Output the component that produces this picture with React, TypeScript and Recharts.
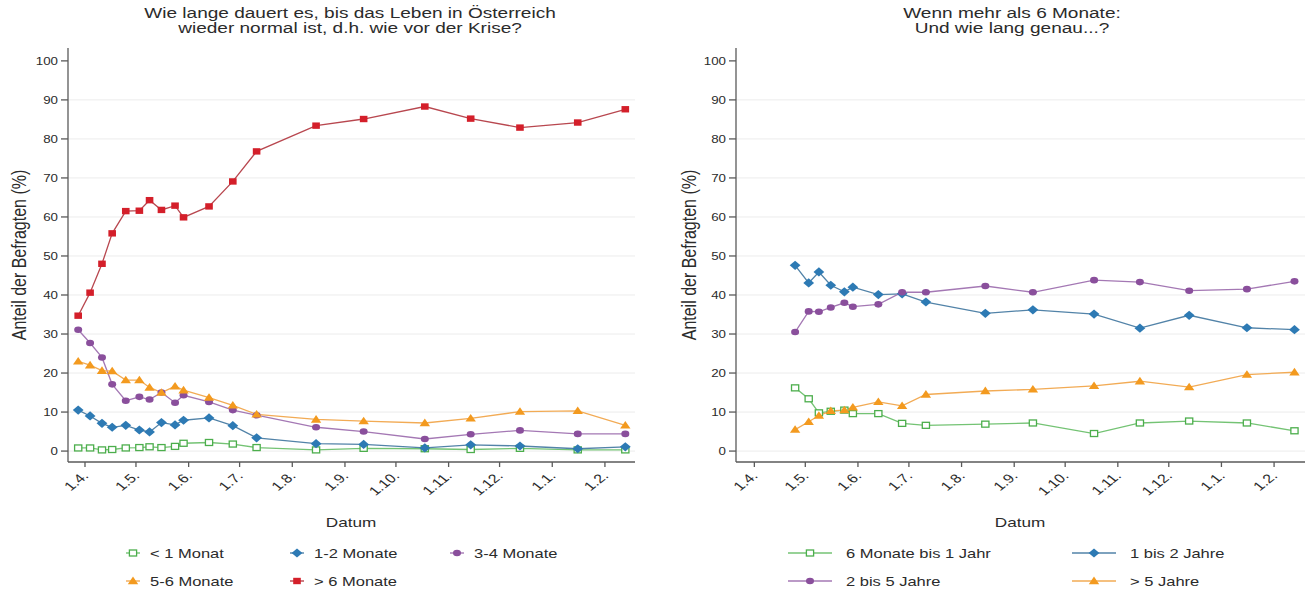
import React from "react";
import { CartesianGrid, Line, LineChart, XAxis, YAxis } from "recharts";

// survey dates as days after 1 April 2020
const surveyDays = [-4, 3, 10, 16, 24, 32, 38, 45, 53, 58, 73, 87, 101, 136, 164, 200, 227, 256, 290, 318];
const followUpDays = surveyDays.slice(4);

const monthTicks = [0, 30, 61, 91, 122, 153, 183, 214, 244, 275, 306];
const monthLabels = ["1.4.", "1.5.", "1.6.", "1.7.", "1.8.", "1.9.", "1.10.", "1.11.", "1.12.", "1.1.", "1.2."];
const yTicks = [0, 10, 20, 30, 40, 50, 60, 70, 80, 90, 100];
const gridValues = [0, 10, 20, 30, 40, 50, 60, 70, 80, 90];

// left panel
const underOneMonth = [0.8, 0.8, 0.3, 0.4, 0.8, 0.9, 1.1, 0.9, 1.2, 2.0, 2.2, 1.8, 0.9, 0.3, 0.7, 0.6, 0.4, 0.7, 0.3, 0.3];
const oneToTwoMonths = [10.5, 9.0, 7.1, 6.1, 6.6, 5.4, 4.9, 7.3, 6.7, 7.9, 8.5, 6.5, 3.4, 1.9, 1.7, 0.8, 1.6, 1.3, 0.6, 1.1];
const threeToFourMonths = [31.1, 27.7, 24.0, 17.1, 12.9, 13.9, 13.2, 15.0, 12.4, 14.3, 12.6, 10.5, 9.2, 6.1, 5.0, 3.1, 4.3, 5.3, 4.4, 4.4];
const fiveToSixMonths = [23.0, 22.0, 20.6, 20.5, 18.2, 18.2, 16.3, 15.0, 16.6, 15.6, 13.7, 11.7, 9.4, 8.1, 7.7, 7.2, 8.4, 10.1, 10.3, 6.6];
const overSixMonths = [34.7, 40.6, 48.0, 55.8, 61.5, 61.6, 64.3, 61.8, 62.9, 59.9, 62.7, 69.1, 76.8, 83.4, 85.1, 88.3, 85.2, 82.9, 84.2, 87.6];

// right panel
const sixMonthsToOneYear = [16.2, 13.4, 9.8, 10.2, 10.5, 9.6, 9.6, 7.1, 6.6, 6.9, 7.2, 4.5, 7.2, 7.7, 7.2, 5.2];
const oneToTwoYears = [47.6, 43.1, 45.9, 42.5, 40.8, 42.0, 40.1, 40.3, 38.2, 35.3, 36.2, 35.1, 31.5, 34.8, 31.6, 31.1];
const twoToFiveYears = [30.5, 35.8, 35.7, 36.8, 38.0, 37.0, 37.6, 40.7, 40.7, 42.3, 40.7, 43.8, 43.3, 41.1, 41.5, 43.5];
const overFiveYears = [5.5, 7.5, 9.1, 10.3, 10.5, 11.2, 12.6, 11.6, 14.5, 15.4, 15.8, 16.7, 17.9, 16.4, 19.6, 20.2];

const FONT = "'Liberation Sans', Arial, Helvetica, sans-serif";
const STRETCH = 1.27;
const AXIS = "#5a5a5a";
const TEXT = "#2b2b2b";

type Shape = "square" | "hollowSquare" | "diamond" | "circle" | "triangle";

const colors = {
  green: { mark: "#4cae4c", line: "#74c374" },
  blue: { mark: "#2d7ab4", line: "#5283a8" },
  purple: { mark: "#8a4f9c", line: "#a478b4" },
  orange: { mark: "#f39a1f", line: "#f2ab55" },
  red: { mark: "#d41f2a", line: "#b8474f" },
};

const leftSeries = [
  { key: "u1", name: "< 1 Monat", values: underOneMonth, shape: "hollowSquare" as Shape, color: colors.green },
  { key: "m12", name: "1-2 Monate", values: oneToTwoMonths, shape: "diamond" as Shape, color: colors.blue },
  { key: "m34", name: "3-4 Monate", values: threeToFourMonths, shape: "circle" as Shape, color: colors.purple },
  { key: "m56", name: "5-6 Monate", values: fiveToSixMonths, shape: "triangle" as Shape, color: colors.orange },
  { key: "m6", name: "> 6 Monate", values: overSixMonths, shape: "square" as Shape, color: colors.red },
];

const rightSeries = [
  { key: "y01", name: "6 Monate bis 1 Jahr", values: sixMonthsToOneYear, shape: "hollowSquare" as Shape, color: colors.green },
  { key: "y12", name: "1 bis 2 Jahre", values: oneToTwoYears, shape: "diamond" as Shape, color: colors.blue },
  { key: "y25", name: "2 bis 5 Jahre", values: twoToFiveYears, shape: "circle" as Shape, color: colors.purple },
  { key: "y5", name: "> 5 Jahre", values: overFiveYears, shape: "triangle" as Shape, color: colors.orange },
];

const leftData = surveyDays.map((day, i) => {
  const row: Record<string, number> = { day };
  leftSeries.forEach((s) => (row[s.key] = s.values[i]));
  return row;
});

const rightData = followUpDays.map((day, i) => {
  const row: Record<string, number> = { day };
  rightSeries.forEach((s) => (row[s.key] = s.values[i]));
  return row;
});

function Marker({ cx, cy, shape, color }: { cx: number; cy: number; shape: Shape; color: string }) {
  if (cx == null || cy == null) return null;
  switch (shape) {
    case "square":
      return <rect x={cx - 3.8} y={cy - 3.2} width={7.6} height={6.4} fill={color} />;
    case "hollowSquare":
      return <rect x={cx - 3.6} y={cy - 3} width={7.2} height={6} fill="#fff" stroke={color} strokeWidth={1.3} />;
    case "diamond":
      return <polygon points={`${cx},${cy - 4.6} ${cx + 5.4},${cy} ${cx},${cy + 4.6} ${cx - 5.4},${cy}`} fill={color} />;
    case "circle":
      return <ellipse cx={cx} cy={cy} rx={4} ry={3.3} fill={color} />;
    case "triangle":
      return <polygon points={`${cx},${cy - 4.4} ${cx + 5.2},${cy + 3.2} ${cx - 5.2},${cy + 3.2}`} fill={color} />;
  }
  return null;
}

function YTick(props: any) {
  const { x, y, payload } = props;
  return (
    <text
      transform={`translate(${x},${y}) scale(${STRETCH},1)`}
      textAnchor="end"
      dy="0.36em"
      fontSize={10.5}
      fontFamily={FONT}
      fill={TEXT}
    >
      {payload.value}
    </text>
  );
}

function XTick(props: any) {
  const { x, y, payload } = props;
  const label = monthLabels[monthTicks.indexOf(payload.value)];
  return (
    <text
      transform={`translate(${x + 1},${y + 5}) scale(${STRETCH},1) rotate(-45)`}
      textAnchor="end"
      dy="0.3em"
      fontSize={12.5}
      fontFamily={FONT}
      fill={TEXT}
    >
      {label}
    </text>
  );
}

type SeriesDef = (typeof leftSeries)[number];

function Panel({
  data,
  series,
  domain,
  margin,
}: {
  data: Record<string, number>[];
  series: SeriesDef[];
  domain: [number, number];
  margin: { top: number; right: number; bottom: number; left: number };
}) {
  return (
    <LineChart width={653} height={594} data={data} margin={margin}>
      <CartesianGrid vertical={false} stroke="#ececec" strokeWidth={1} horizontalValues={gridValues} />
      <XAxis
        type="number"
        dataKey="day"
        domain={domain}
        allowDataOverflow
        ticks={monthTicks}
        interval={0}
        tick={<XTick />}
        tickSize={5}
        tickMargin={2}
        height={40}
        stroke={AXIS}
        axisLine={{ stroke: AXIS, strokeWidth: 1.3 }}
        tickLine={{ stroke: AXIS, strokeWidth: 1.3 }}
      />
      <YAxis
        type="number"
        domain={[-2.8, 103.3]}
        allowDataOverflow
        ticks={yTicks}
        interval={0}
        tick={<YTick />}
        tickSize={7}
        tickMargin={3}
        width={50}
        axisLine={{ stroke: AXIS, strokeWidth: 1.3 }}
        tickLine={{ stroke: AXIS, strokeWidth: 1.3 }}
      />
      {series.map((s) => (
        <Line
          key={s.key}
          dataKey={s.key}
          name={s.name}
          type="linear"
          stroke={s.color.line}
          strokeWidth={1.3}
          isAnimationActive={false}
          dot={(p: any) => <Marker key={`${s.key}-${p.index}`} cx={p.cx} cy={p.cy} shape={s.shape} color={s.color.mark} />}
          activeDot={false}
        />
      ))}
    </LineChart>
  );
}

function HText({ x, y, children, size, anchor = "middle" }: any) {
  return (
    <text
      transform={`translate(${x},${y}) scale(${STRETCH},1)`}
      textAnchor={anchor}
      fontSize={size}
      fontFamily={FONT}
      fill={TEXT}
    >
      {children}
    </text>
  );
}

function Overlay() {
  const leftLegendPos = [
    [133, 553],
    [297, 553],
    [457, 553],
    [133, 581],
    [297, 581],
  ];
  const rightLegendPos = [
    [810, 553],
    [1094, 553],
    [810, 581],
    [1094, 581],
  ];
  return (
    <svg width={1306} height={594} style={{ position: "absolute", left: 0, top: 0, pointerEvents: "none" }}>
      <HText x={350} y={18} size={15}>Wie lange dauert es, bis das Leben in Österreich</HText>
      <HText x={350} y={33} size={15}>wieder normal ist, d.h. wie vor der Krise?</HText>
      <HText x={1012} y={18} size={15}>Wenn mehr als 6 Monate:</HText>
      <HText x={1012} y={33} size={15}>Und wie lang genau...?</HText>

      <HText x={351} y={527} size={13.5}>Datum</HText>
      <HText x={1020} y={527} size={13.5}>Datum</HText>

      {[19, 689].map((x) => (
        <text
          key={x}
          transform={`translate(${x},255) rotate(-90) scale(1,${STRETCH})`}
          textAnchor="middle"
          dy="0.35em"
          fontSize={16}
          fontFamily={FONT}
          fill={TEXT}
        >
          Anteil der Befragten (%)
        </text>
      ))}

      {leftSeries.map((s, i) => {
        const [mx, my] = leftLegendPos[i];
        return (
          <g key={s.key}>
            <line x1={mx - 7} x2={mx + 7} y1={my} y2={my} stroke={s.color.line} strokeWidth={1.4} />
            <Marker cx={mx} cy={my} shape={s.shape} color={s.color.mark} />
            <g transform={`translate(0,4.5)`}>
              <HText x={mx + 17} y={my} size={13} anchor="start">{s.name}</HText>
            </g>
          </g>
        );
      })}

      {rightSeries.map((s, i) => {
        const [mx, my] = rightLegendPos[i];
        return (
          <g key={s.key}>
            <line x1={mx - 22} x2={mx + 22} y1={my} y2={my} stroke={s.color.line} strokeWidth={1.4} />
            <Marker cx={mx} cy={my} shape={s.shape} color={s.color.mark} />
            <g transform={`translate(0,4.5)`}>
              <HText x={mx + 36} y={my} size={13} anchor="start">{s.name}</HText>
            </g>
          </g>
        );
      })}
    </svg>
  );
}

export default function App() {
  return (
    <div
      style={{
        position: "absolute",
        left: 0,
        top: 0,
        width: 1306,
        height: 594,
        background: "#fff",
        overflow: "hidden",
      }}
    >
      <div style={{ position: "absolute", left: 0, top: 0 }}>
        <Panel data={leftData} series={leftSeries} domain={[-10, 323.7]} margin={{ top: 48, right: 18, bottom: 92, left: 18 }} />
      </div>
      <div style={{ position: "absolute", left: 653, top: 0 }}>
        <Panel data={rightData} series={rightSeries} domain={[-10.8, 324.2]} margin={{ top: 48, right: 1, bottom: 92, left: 33 }} />
      </div>
      <Overlay />
    </div>
  );
}
